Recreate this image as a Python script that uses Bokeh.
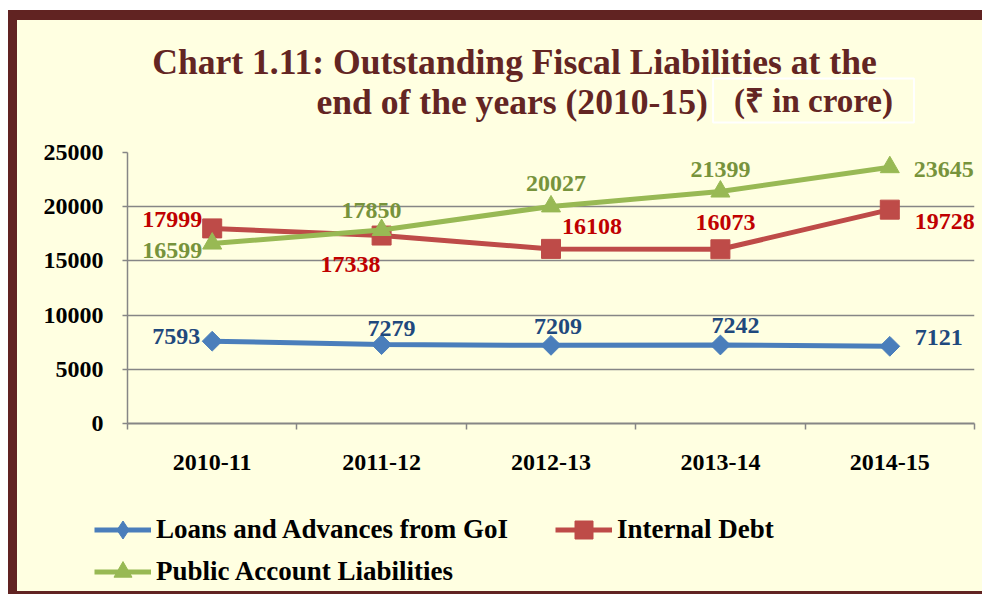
import math
from bokeh.plotting import figure
from bokeh.models import (FactorRange, Range1d, ColumnDataSource, Label, Legend, LegendItem,
                          LinearAxis, FixedTicker, CustomJSTickFormatter, Plot)
from bokeh.layouts import column
from bokeh.core.properties import value
from bokeh.embed import file_html
from bokeh.resources import INLINE

# ---------------- data ----------------
years = ["2010-11", "2011-12", "2012-13", "2013-14", "2014-15"]
loans = [7593, 7279, 7209, 7242, 7121]
internal_debt = [17999, 17338, 16108, 16073, 19728]
public_account = [16599, 17850, 20027, 21399, 23645]
y_ticks = [0, 5000, 10000, 15000, 20000, 25000]
series_names = ["Loans and Advances from GoI", "Internal Debt", "Public Account Liabilities"]
title_line1 = "Chart 1.11: Outstanding Fiscal Liabilities at the"
title_line2 = "end of the years (2010-15)"
unit_text = "(\u20b9 in crore)"

# ---------------- styles ----------------
BG = "#FFFFE1"
FRAME = "#612322"
TITLE_C = "#632523"
GRID = "#868686"
FONT = "Liberation Serif"
line_colors = ["#4A7EBB", "#BE4B48", "#98B954"]
label_colors = ["#1F497D", "#C00000", "#77933C"]
markers = ["square", "square", "triangle"]
legend_markers = ["diamond", "square", "triangle"]
sizes = [14, 19, 19]
angles = [math.pi / 4, 0, 0]
W = 965
FL, FR = 110, 8          # frame borders (left/right) of the chart
HAS_FA = "frame_align" in Plot.properties()

# label placement (style only): alignment and pixel offsets per point
aligns = [
    ["right", "center", "center", "center", "left"],
    ["right", "right", "left", "center", "left"],
    ["right", "center", "center", "center", "left"],
]
x_offs = [
    [-12, 10, 7, 15, 25],
    [-10, -1, 11, 5, 25],
    [-10, -10, 5, 0, 24],
]
y_offs = [
    [-5, -16, -19, -19, -9],
    [-9, 29, -22, -27, 12],
    [7, -20, -23, -22, 2],
]

# ---------------- header (title) ----------------
# frames are aligned inside a column, so the header frame spans FL..W-FR
head = figure(width=W, height=120, x_range=Range1d(FL, W - FR), y_range=Range1d(120, 0),
              x_axis_type=None, y_axis_type=None, output_backend="svg", toolbar_location=None,
              min_border=0, min_border_left=FL, min_border_right=FR,
              min_border_top=0, min_border_bottom=0,
              background_fill_color=None, border_fill_color=BG, outline_line_color=None)
head.grid.visible = False
head.add_layout(Label(x=497, y=41, text=title_line1, text_align="center",
                      text_baseline="middle", text_font=FONT, text_font_style="bold",
                      text_font_size="35.6px", text_color=TITLE_C))
head.add_layout(Label(x=299, y=81, text=title_line2, text_align="left",
                      text_baseline="middle", text_font=FONT, text_font_style="bold",
                      text_font_size="35.6px", text_color=TITLE_C))
head.add_layout(Label(x=796, y=80, text=unit_text, text_align="center",
                      text_baseline="middle", text_font=FONT, text_font_style="bold",
                      text_font_size="33px", text_color=TITLE_C,
                      border_line_color="white", border_line_width=2, padding=(21, 4)))

# ---------------- main chart ----------------
p = figure(x_range=FactorRange(*years), y_range=Range1d(0, 25000),
           width=W, height=340, output_backend="svg", toolbar_location=None,
           min_border_left=FL, min_border_right=FR, min_border_top=12, min_border_bottom=57,
           background_fill_color=BG, border_fill_color=BG, outline_line_color=None)
p.title.visible = False

p.yaxis.ticker = FixedTicker(ticks=y_ticks)
p.yaxis.axis_line_color = GRID
p.yaxis.axis_line_width = 1.5
p.yaxis.major_tick_line_color = GRID
p.yaxis.major_tick_line_width = 1.5
p.yaxis.major_tick_out = 5
p.yaxis.major_tick_in = 0
p.yaxis.minor_tick_line_color = None
p.yaxis.major_label_standoff = 19
p.yaxis.major_label_text_font = FONT
p.yaxis.major_label_text_font_style = "bold"
p.yaxis.major_label_text_font_size = "24px"
p.yaxis.major_label_text_color = "black"

p.ygrid.ticker = FixedTicker(ticks=y_ticks)
p.ygrid.grid_line_color = GRID
p.ygrid.grid_line_width = 1.5
p.xgrid.grid_line_color = None

cat_axis = p.xaxis[0]
cat_axis.axis_line_color = None
cat_axis.major_tick_line_color = None
cat_axis.major_tick_out = 0
cat_axis.major_tick_in = 0
cat_axis.major_label_standoff = 25
cat_axis.major_label_text_font = FONT
cat_axis.major_label_text_font_style = "bold"
cat_axis.major_label_text_font_size = "24px"
cat_axis.major_label_text_color = "black"

tick_axis = LinearAxis(ticker=FixedTicker(ticks=list(range(len(years) + 1))),
                       formatter=CustomJSTickFormatter(code="return ''"),
                       axis_line_color=GRID, axis_line_width=2,
                       major_tick_line_color=GRID, major_tick_line_width=1.5,
                       major_tick_out=6, major_tick_in=0, minor_tick_line_color=None,
                       major_label_standoff=0, major_label_text_font_size="1px")
p.below = [tick_axis, cat_axis]

series = [loans, internal_debt, public_account]
for i, vals in enumerate(series):
    src = ColumnDataSource(dict(x=years, y=vals, text=[str(v) for v in vals],
                                align=aligns[i], xo=x_offs[i], yo=y_offs[i]))
    p.line("x", "y", source=src, line_color=line_colors[i], line_width=5)
    p.scatter("x", "y", source=src, marker=markers[i], size=sizes[i], angle=angles[i],
              fill_color=line_colors[i], line_color=line_colors[i])
    p.text("x", "y", text="text", source=src, text_align="align", x_offset="xo", y_offset="yo",
           text_baseline="middle", text_font=value(FONT), text_font_style="bold",
           text_font_size="24px", text_color=label_colors[i])

# ---------------- footer (legend) ----------------
FH = 111
foot_kw = dict(frame_align=False) if HAS_FA else {}
foot_x0 = 0 if HAS_FA else FL
foot = figure(width=W, height=FH, x_range=Range1d(0, 10), y_range=Range1d(0, FH),
              x_axis_type=None, y_axis_type=None, output_backend="svg", toolbar_location=None,
              min_border=0, min_border_left=0, min_border_right=0,
              min_border_top=0, min_border_bottom=0,
              background_fill_color=None, border_fill_color=BG, outline_line_color=None,
              **foot_kw)
foot.grid.visible = False

# legend handles: the series drawn far outside the footer's (tiny) view
legend_locs = [(77, 39), (538, 39), (77, -3)]
for i, vals in enumerate(series):
    hsrc = ColumnDataSource(dict(x=list(range(len(vals))), y=vals))
    lr = foot.line("x", "y", source=hsrc, line_color=line_colors[i], line_width=5)
    sr = foot.scatter("x", "y", source=hsrc, marker=legend_markers[i],
                      fill_color=line_colors[i], line_color=line_colors[i])
    lx, ly = legend_locs[i]
    lg = Legend(items=[LegendItem(label=series_names[i], renderers=[lr, sr])],
                location=(max(lx - foot_x0, 0), ly), orientation="horizontal",
                glyph_width=57, glyph_height=45, label_standoff=5, padding=0, margin=0,
                border_line_color=None, background_fill_alpha=0,
                label_text_font=FONT, label_text_font_style="bold",
                label_text_font_size="27px", label_text_color="black")
    foot.add_layout(lg, "center")

body = column(head, p, foot, styles={"background-color": BG}, margin=(10, 0, 3, 9))
inner = column(body, styles={"background-color": FRAME}, margin=(10, 0, 0, 8))
layout = column(inner, styles={"background-color": "white"})
open("out.html", "w").write(file_html(layout, INLINE))
